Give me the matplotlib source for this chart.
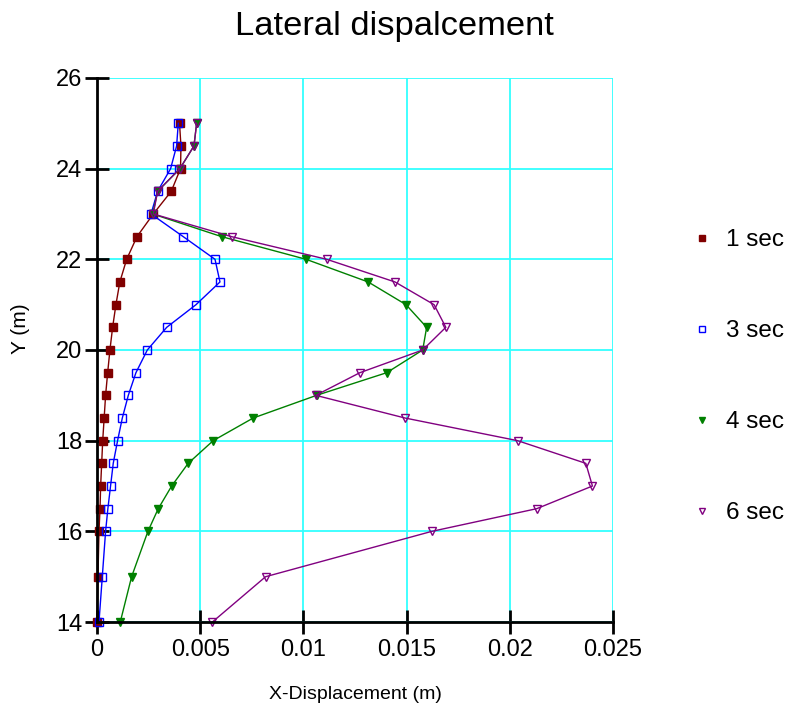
import matplotlib
matplotlib.use('Agg')
import matplotlib.pyplot as plt
from matplotlib.lines import Line2D

plt.rcParams['font.family'] = ['Liberation Sans', 'DejaVu Sans']
plt.rcParams['font.size'] = 14

# heights (m)
y = [14, 15, 16, 16.5, 17, 17.5, 18, 18.5, 19, 19.5, 20, 20.5, 21, 21.5,
     22, 22.5, 23, 23.5, 24, 24.5, 25]

# lateral displacement (m) per time step
d1 = [0.0, 0.00005, 0.0001, 0.00015, 0.00018, 0.00023, 0.00028, 0.00035,
      0.00042, 0.00052, 0.00063, 0.00076, 0.00092, 0.00111, 0.00144,
      0.00194, 0.00273, 0.0036, 0.00405, 0.00407, 0.0040]
d3 = [0.0001, 0.00026, 0.00042, 0.00053, 0.00066, 0.00079, 0.001, 0.00123,
      0.00152, 0.00189, 0.00244, 0.00338, 0.0048, 0.00596, 0.00572,
      0.00418, 0.00262, 0.00294, 0.00357, 0.00386, 0.00394]
d4 = [0.00113, 0.00168, 0.00247, 0.00297, 0.00362, 0.00442, 0.00563,
      0.00757, 0.01064, 0.01404, 0.01578, 0.01597, 0.01497, 0.01314,
      0.01013, 0.00604, 0.0027, 0.00294, 0.00402, 0.0047, 0.00483]
d6 = [0.00559, 0.00817, 0.01622, 0.0213, 0.024, 0.02368, 0.02038, 0.01492,
      0.0106, 0.01274, 0.01578, 0.0169, 0.01633, 0.01444, 0.01113,
      0.00652, 0.00273, 0.00294, 0.00402, 0.0047, 0.00483]

labels = ['1 sec', '3 sec', '4 sec', '6 sec']
colors = ['#800000', '#0000ff', '#008000', '#800080']
markers = ['s', 's', 'v', 'v']
filled = [True, False, True, False]

fig = plt.figure(figsize=(7.88, 7.15), dpi=100)
ax = fig.add_axes([0.123, 0.130, 0.655, 0.761])

handles = []
for d, lab, c, m, f in zip([d1, d3, d4, d6], labels, colors, markers, filled):
    fc = c if f else 'none'
    ax.plot(d, y, '-', color=c, lw=1, marker=m, ms=5.5, mfc=fc, mec=c, mew=1, clip_on=False)
    handles.append(Line2D([], [], ls='', marker=m, ms=5, color=c, mfc=fc, mec=c, mew=1))

ax.set_xlim(0, 0.025)
ax.set_ylim(14, 26)
ax.set_xticks([0, 0.005, 0.01, 0.015, 0.02, 0.025])
ax.set_xticklabels(['0', '0.005', '0.01', '0.015', '0.02', '0.025'])
ax.set_yticks([14, 16, 18, 20, 22, 24, 26])
ax.grid(True, color='#33ffff', lw=1.3)
ax.set_axisbelow(True)
ax.spines['top'].set_visible(False)
ax.spines['right'].set_visible(False)
ax.spines['left'].set_linewidth(2)
ax.spines['bottom'].set_linewidth(2)
ax.tick_params(direction='inout', length=17, width=2, labelsize=17)
ax.tick_params(axis='x', pad=4)
ax.tick_params(axis='y', pad=2)

ax.set_xlabel('X-Displacement (m)', fontsize=14, labelpad=18)
ax.set_ylabel('Y (m)', fontsize=15)
ax.yaxis.set_label_coords(-0.13, 0.54)
fig.suptitle('Lateral dispalcement', fontsize=24.8, y=0.985)

fig.legend(handles, labels, loc='center left', bbox_to_anchor=(0.851, 0.473),
           frameon=False, labelspacing=2.84, handlelength=0.8, handletextpad=0.6,
           fontsize=17.5)

fig.savefig('out.png', dpi=100)
